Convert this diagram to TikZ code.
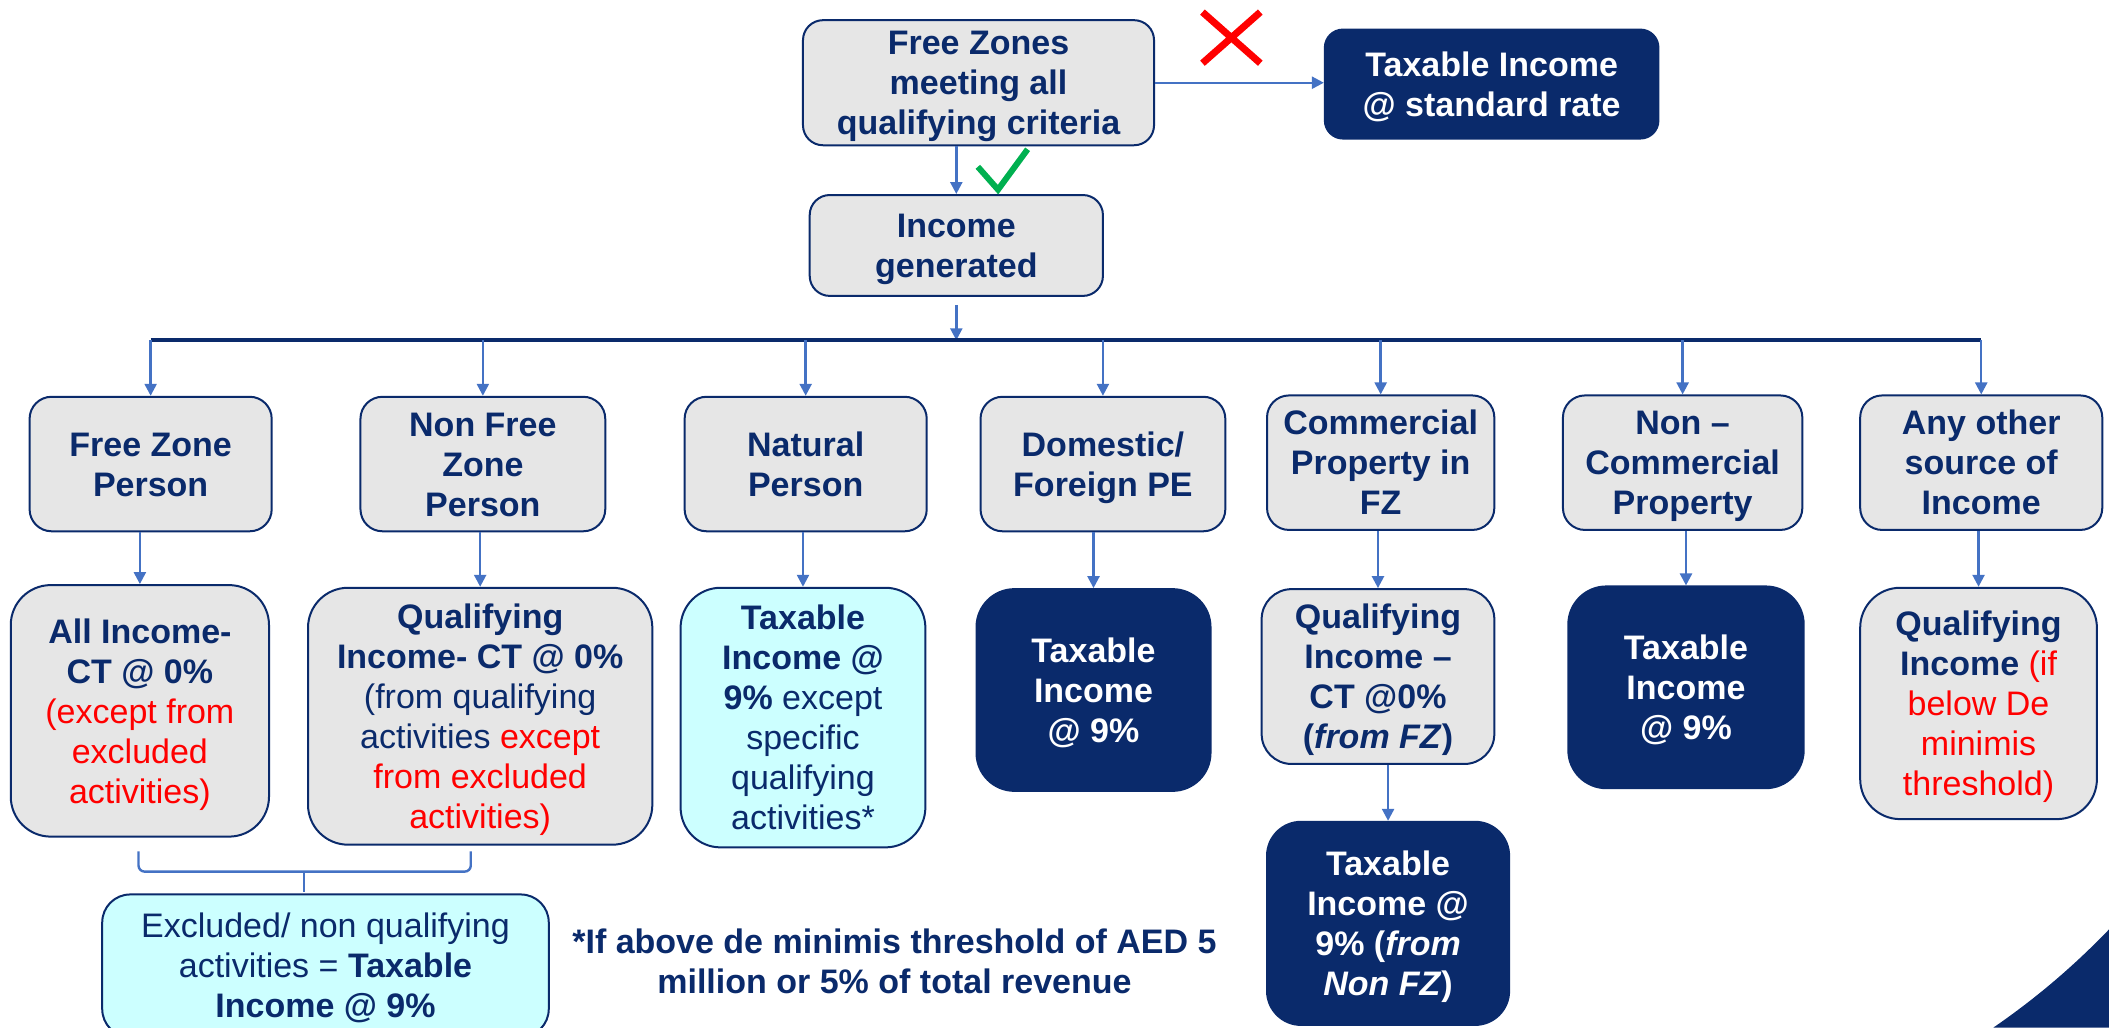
\documentclass[tikz,border=0pt]{standalone}
\usepackage{fontspec}
\setmainfont{Liberation Sans}
\usetikzlibrary{arrows.meta}

\definecolor{navy}{HTML}{0A2A6B}
\definecolor{boxgray}{HTML}{E6E6E6}
\definecolor{lcyan}{HTML}{CCFFFF}
\definecolor{flow}{HTML}{4472C4}
\definecolor{alert}{HTML}{FF0000}
\definecolor{okgreen}{HTML}{00B050}

% struts that fix the height of the first line and the depth of the last one,
% so that all box texts sit at the same optical level
\newcommand\boxtop{\rule{0pt}{16.2pt}}
\newcommand\boxbot{\rule[-4pt]{0pt}{0pt}}

\tikzset{
  x=0.6725pt, y=-0.6725pt,
  sz/.style 2 args={minimum width=#1*0.6725pt, minimum height=#2*0.6725pt},
  basebox/.style={draw=navy, line width=1pt, inner sep=0pt, align=center,
    font=\fontsize{17}{20}\selectfont\bfseries},
  gbox/.style={basebox, fill=boxgray, text=navy},
  cbox/.style={basebox, fill=lcyan, text=navy},
  nbox/.style={basebox, fill=navy, text=white},
  flowarr/.style={draw=flow, line width=1.2pt, -{Triangle[width=6pt,length=6pt]}},
}

\begin{document}
\begin{tikzpicture}
\useasboundingbox (0,0) rectangle (1568,764);
\clip (0,0) rectangle (1568,764);

% corner decoration
\fill[navy] (1482,764) .. controls (1514,742) and (1542,718) .. (1568,691) -- (1568,764) -- cycle;

% top of the chart
\node[gbox, sz={261}{93}, rounded corners=10pt] (fz) at (727.5,61.5)
  {\boxtop Free Zones\\meeting all\\qualifying criteria\boxbot};
\node[nbox, sz={248}{81}, rounded corners=9pt] (std) at (1109,62.5)
  {\boxtop Taxable Income\\@ standard rate\boxbot};
\node[gbox, sz={218}{75}, rounded corners=10pt] (ig) at (711,182.5)
  {\boxtop Income\\generated\boxbot};

\draw[flowarr] (fz.east) -- (std.west |- fz.east);
\draw[flowarr] (fz.south -| ig) -- (ig.north);

% cross and tick marks
\draw[alert, line width=3.5pt] (894,9) -- (937,47) (937,9) -- (894,47);
\draw[okgreen, line width=3pt] (727,124) -- (742,141) -- (764,111);

% sources of income
\node[gbox, sz={180}{100}, rounded corners=11pt] (p1) at (112,345) {\boxtop Free Zone\\Person\boxbot};
\node[gbox, sz={182}{100}, rounded corners=11pt] (p2) at (359,345) {\boxtop Non Free\\Zone\\Person\boxbot};
\node[gbox, sz={180}{100}, rounded corners=11pt] (p3) at (599,345) {\boxtop Natural\\Person\boxbot};
\node[gbox, sz={182}{100}, rounded corners=11pt] (p4) at (820,345) {\boxtop Domestic/\\Foreign PE\boxbot};
\node[gbox, sz={169}{100}, rounded corners=11pt] (p5) at (1026.5,344) {\boxtop Commercial\\Property in\\FZ\boxbot};
\node[gbox, sz={178}{100}, rounded corners=11pt] (p6) at (1251,344) {\boxtop Non –\\Commercial\\Property\boxbot};
\node[gbox, sz={180}{100}, rounded corners=11pt] (p7) at (1473,344) {\boxtop Any other\\source of\\Income\boxbot};

% distribution bus
\coordinate (bus) at (711,253);
\draw[flowarr] ([yshift=-4pt]ig.south) -- (bus);
\draw[navy, line width=2pt] (bus -| p1) -- (bus -| p7);
\foreach \p in {p1,p2,p3,p4,p5,p6,p7}
  \draw[flowarr] (bus -| \p) -- (\p.north);

% tax treatment
\node[gbox, sz={192}{187}, rounded corners=20pt] (q1) at (104,528.5)
  {\boxtop All Income-\\CT @ 0\%\\{\mdseries\color{alert}(except from}\\{\mdseries\color{alert}excluded}\\{\mdseries\color{alert}activities)}\boxbot};
\node[gbox, sz={256}{191}, rounded corners=20pt] (q2) at (357,532.5)
  {\boxtop Qualifying\\Income- CT @ 0\%\\{\mdseries (from qualifying}\\{\mdseries activities \textcolor{alert}{except}}\\{\mdseries\color{alert}from excluded}\\{\mdseries\color{alert}activities)}\boxbot};
\node[cbox, sz={182}{193}, rounded corners=20pt] (q3) at (597,533.5)
  {\boxtop Taxable\\Income @\\9\% {\mdseries except}\\{\mdseries specific}\\{\mdseries qualifying}\\{\mdseries activities*}\boxbot};
\node[nbox, sz={174}{150}, rounded corners=19pt] (q4) at (813,513)
  {\boxtop Taxable\\Income\\@ 9\%\boxbot};
\node[gbox, sz={173}{130}, rounded corners=15pt] (q5) at (1024.5,503)
  {\boxtop Qualifying\\Income –\\CT @0\%\\(\textit{from FZ})\boxbot};
\node[nbox, sz={175}{150}, rounded corners=19pt] (q6) at (1253.5,511)
  {\boxtop Taxable\\Income\\@ 9\%\boxbot};
\node[gbox, sz={176}{172}, rounded corners=20pt] (q7) at (1471,523)
  {\boxtop Qualifying\\Income {\mdseries\color{alert}(if}\\{\mdseries\color{alert}below De}\\{\mdseries\color{alert}minimis}\\{\mdseries\color{alert}threshold)}\boxbot};
\node[nbox, sz={180}{151}, rounded corners=17pt] (q8) at (1032,686.5)
  {\boxtop Taxable\\Income @\\9\% (\textit{from}\\\textit{Non FZ})\boxbot};

\foreach \p/\q in {p1/q1,p2/q2,p3/q3,p4/q4,p5/q5,p6/q6,p7/q7}
  \draw[flowarr] (\p.south -| \q) -- (\q.north);
\draw[flowarr] (q5.south -| q8) -- (q8.north);

% excluded activities
\node[cbox, sz={332}{106}, rounded corners=14pt] (exc) at (242,718)
  {\boxtop{\mdseries Excluded/ non qualifying}\\{\mdseries activities =} Taxable\\Income @ 9\%\boxbot};

\coordinate (brl) at (103,633);
\coordinate (brr) at (350,633);
\coordinate (brm) at (226,648);
\coordinate (brt) at (226,663);
\draw[flow, line width=1.2pt, rounded corners=3pt]
  (brl) -- (brl |- brm) -- (brr |- brm) -- (brr);
\draw[flow, line width=1.2pt] (brm) -- (brt);

% footnote
\node[text=navy, align=center, font=\fontsize{17}{20}\selectfont\bfseries] (note) at (665,715)
  {*If above de minimis threshold of AED 5\\million or 5\% of total revenue};
\end{tikzpicture}
\end{document}
